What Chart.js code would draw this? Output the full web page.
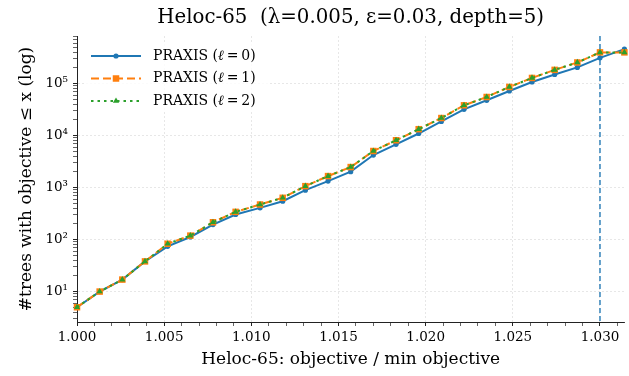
<!DOCTYPE html>
<html><head><meta charset="utf-8">
<script src="https://cdn.jsdelivr.net/npm/chart.js@4/dist/chart.umd.min.js"></script>
<style>html,body{margin:0;padding:0;background:#fff}#wrap{width:629px;height:376px;position:relative}</style>
</head><body><div id="wrap"><canvas id="c" width="629" height="376"></canvas></div>
<script>
// ---- data ----
const ratioX = [1.0000, 1.0013, 1.0026, 1.0039, 1.0052, 1.0065, 1.0078, 1.0091, 1.0105, 1.0118,
                1.0131, 1.0144, 1.0157, 1.0170, 1.0183, 1.0196, 1.0209, 1.0222, 1.0235, 1.0248,
                1.0261, 1.0274, 1.0287, 1.0300, 1.0314];
const praxisL0 = [5, 10, 17, 38, 74, 112, 194, 303, 407, 546, 891, 1330, 2020, 4220, 6790,
                  10940, 18700, 31900, 47600, 71900, 107000, 149000, 204000, 312000, 459000];
const praxisL1 = [5, 10, 17, 38, 83, 119, 215, 341, 472, 635, 1064, 1660, 2476, 5040, 8110,
                  13240, 21700, 38100, 55100, 85900, 128000, 183000, 254000, 397000, 397000];
const praxisL2 = [5, 10, 17, 38, 83, 119, 215, 341, 472, 635, 1064, 1660, 2476, 5040, 8110,
                  13240, 21700, 38100, 55100, 85900, 128000, 183000, 254000, 397000, 397000];
const seriesNames = ['PRAXIS (ℓ\u2009=\u20090)', 'PRAXIS (ℓ\u2009=\u20091)', 'PRAXIS (ℓ\u2009=\u20092)'];
const xTickValues = [1.000,1.001,1.002,1.003,1.004,1.005,1.006,1.007,1.008,1.009,1.010,1.011,1.012,1.013,1.014,
                     1.015,1.016,1.017,1.018,1.019,1.020,1.021,1.022,1.023,1.024,1.025,1.026,1.027,1.028,1.029,1.030,1.031];
const xTickLabels = ['1.000','1.005','1.010','1.015','1.020','1.025','1.030'];
const yMajorTicks = [10, 100, 1000, 10000, 100000];
const yMajorLabels = ['10¹','10²','10³','10⁴','10⁵'];
const yMinorSteps = [2,3,4,5,6,7,8,9];
const epsilonLine = 1.030;
const chartTitle = 'Heloc-65  (λ=0.005, ε=0.03, depth=5)';
const xAxisTitle = 'Heloc-65: objective / min objective';
const yAxisTitle = '#trees with objective \u2264 x (log)';

const SERIF = "'DejaVu Serif', serif";
const colors = ['#1f77b4', '#ff7f0e', '#2ca02c'];
const dashes = [[], [8, 4], [2.5, 4]];
const markers = ['circle', 'rect', 'triangle'];
const radii = [2.6, 4.6, 3.6];
const seriesVals = [praxisL0, praxisL1, praxisL2];

const toPts = arr => arr.map((v, i) => ({x: ratioX[i], y: v}));
const datasets = seriesVals.map((vals, i) => ({
  label: seriesNames[i],
  data: toPts(vals),
  borderColor: colors[i],
  backgroundColor: colors[i],
  borderWidth: 2,
  borderDash: dashes[i],
  pointStyle: markers[i],
  pointRadius: radii[i],
  pointBorderWidth: 0,
  pointBackgroundColor: colors[i],
  tension: 0,
  clip: false,
  order: 2 - i
}));

const isPow10 = v => { const l = Math.log10(v); return Math.abs(l - Math.round(l)) < 1e-9; };
const isXMajor = v => Math.abs(Math.round(v * 1000) % 5) === 0;

function drawMarker(ctx, style, x, y, r, color) {
  ctx.save();
  ctx.fillStyle = color;
  ctx.beginPath();
  if (style === 'circle') { ctx.arc(x, y, r, 0, Math.PI * 2); }
  else if (style === 'rect') { const s = r * Math.SQRT1_2; ctx.rect(x - s, y - s, 2 * s, 2 * s); }
  else {
    const a = 3 * r / Math.sqrt(3); const h = a * Math.sqrt(3) / 2;
    ctx.moveTo(x - a / 2, y + h / 3); ctx.lineTo(x + a / 2, y + h / 3); ctx.lineTo(x, y - 2 * h / 3); ctx.closePath();
  }
  ctx.fill();
  ctx.restore();
}

const extras = {
  id: 'extras',
  beforeDatasetsDraw(chart) {
    const {ctx, chartArea, scales} = chart;
    const px = scales.x.getPixelForValue(epsilonLine);
    ctx.save();
    ctx.strokeStyle = 'rgba(31,119,180,0.9)';
    ctx.lineWidth = 1.5;
    ctx.setLineDash([5, 3]);
    ctx.beginPath(); ctx.moveTo(px, chartArea.top); ctx.lineTo(px, chartArea.bottom); ctx.stroke();
    ctx.restore();
  },
  afterDatasetsDraw(chart) {
    const {ctx, chartArea} = chart;
    // title
    ctx.save();
    ctx.fillStyle = '#000';
    ctx.font = `19.8px ${SERIF}`;
    ctx.textAlign = 'center';
    ctx.textBaseline = 'middle';
    ctx.fillText(chartTitle, (chartArea.left + chartArea.right) / 2, 18);
    ctx.restore();
    // legend
    const lx = chartArea.left + 7, ly = chartArea.top + 8, lw = 185, lh = 68;
    ctx.save();
    ctx.fillStyle = 'rgba(255,255,255,0.8)';
    ctx.beginPath();
    if (ctx.roundRect) ctx.roundRect(lx, ly, lw, lh, 3); else ctx.rect(lx, ly, lw, lh);
    ctx.fill();
    const rows = [chartArea.top + 20, chartArea.top + 42.5, chartArea.top + 65];
    for (let i = 0; i < 3; i++) {
      const y = rows[i];
      ctx.save();
      ctx.strokeStyle = colors[i];
      ctx.lineWidth = 2;
      ctx.setLineDash(dashes[i]);
      ctx.beginPath(); ctx.moveTo(chartArea.left + 14, y); ctx.lineTo(chartArea.left + 64, y); ctx.stroke();
      ctx.restore();
      drawMarker(ctx, markers[i], chartArea.left + 39, y, radii[i], colors[i]);
      // text with italic ℓ
      const parts = seriesNames[i].split('ℓ');
      let tx = chartArea.left + 76;
      ctx.fillStyle = '#000';
      ctx.textBaseline = 'middle';
      ctx.textAlign = 'left';
      ctx.font = `14px ${SERIF}`;
      ctx.fillText(parts[0], tx, y); tx += ctx.measureText(parts[0]).width;
      ctx.font = `italic 14px ${SERIF}`;
      ctx.fillText('ℓ', tx, y); tx += ctx.measureText('ℓ').width;
      ctx.font = `14px ${SERIF}`;
      ctx.fillText(parts[1], tx, y);
    }
    ctx.restore();
  }
};

const gridColor = 'rgba(0,0,0,0.12)';
new Chart(document.getElementById('c'), {
  type: 'line',
  data: {datasets},
  options: {
    responsive: false,
    animation: false,
    devicePixelRatio: 1,
    layout: {padding: {top: 36, right: 3, left: 0, bottom: 0}},
    plugins: {legend: {display: false}, tooltip: {enabled: false}, title: {display: false}},
    scales: {
      x: {
        type: 'linear', min: ratioX[0], max: ratioX[ratioX.length - 1],
        afterBuildTicks: s => { s.ticks = xTickValues.map(v => ({value: v})); },
        afterFit: s => { s.height = 54; },
        ticks: {
          autoSkip: false, maxRotation: 0, minRotation: 0, padding: 3,
          color: '#000', font: {family: SERIF, size: 13.5},
          callback: v => { const lab = v.toFixed(3); return xTickLabels.includes(lab) ? lab : ''; }
        },
        grid: {
          color: c => (c.tick && isXMajor(c.tick.value)) ? gridColor : 'rgba(0,0,0,0)',
          lineWidth: 0.8, tickColor: '#222', tickLength: 4, tickWidth: c => (c.tick && isXMajor(c.tick.value)) ? 1 : 0.7
        },
        border: {display: true, color: '#222', width: 1, dash: [2, 2]},
        title: {display: true, text: xAxisTitle, color: '#000', font: {family: SERIF, size: 17}, padding: {top: 0, bottom: 6}}
      },
      y: {
        type: 'logarithmic', min: 2.6, max: 820000,
        afterBuildTicks: s => {
          const t = [];
          [1, ...yMajorTicks].forEach(d => yMinorSteps.forEach(m => { const v = d * m; if (v >= s.min && v <= s.max) t.push(v); }));
          yMajorTicks.forEach(v => t.push(v));
          t.sort((a, b) => a - b);
          s.ticks = t.map(v => ({value: v}));
        },
        afterFit: s => { s.width = 77; },
        ticks: {
          autoSkip: false, padding: 5, color: '#000', font: {family: SERIF, size: 13.5},
          callback: v => { const k = yMajorTicks.indexOf(v); return k >= 0 ? yMajorLabels[k] : ''; }
        },
        grid: {
          color: c => (c.tick && isPow10(c.tick.value)) ? gridColor : 'rgba(0,0,0,0)',
          lineWidth: 0.8, tickColor: '#222', tickLength: 4, tickWidth: c => (c.tick && isPow10(c.tick.value)) ? 1 : 0.7
        },
        border: {display: true, color: '#222', width: 1, dash: [2, 2]},
        title: {display: true, text: yAxisTitle, color: '#000', font: {family: SERIF, size: 17}, padding: {top: 16, bottom: 0}}
      }
    }
  },
  plugins: [extras]
});
</script></body></html>
